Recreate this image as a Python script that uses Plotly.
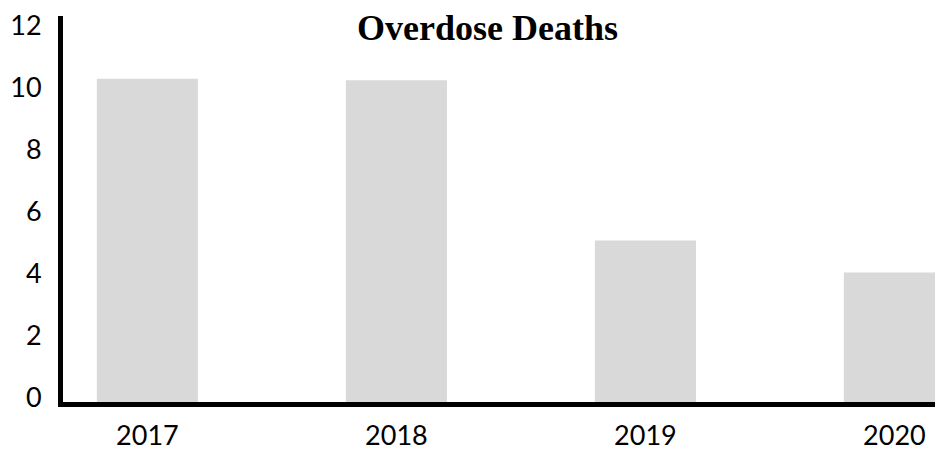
import plotly.graph_objects as go

# Overdose deaths by year
years = ["2017", "2018", "2019", "2020"]
deaths = [10.4, 10.35, 5.2, 4.17]
y_ticks = [0, 2, 4, 6, 8, 10, 12]

W, H = 935, 451

fig = go.Figure(
    go.Bar(
        x=years,
        y=deaths,
        width=0.406,
        marker=dict(color="#d9d9d9", line=dict(width=0)),
        hoverinfo="x+y",
    )
)

fig.update_layout(
    width=W,
    height=H,
    margin=dict(l=63, r=0, t=16, b=47),
    paper_bgcolor="white",
    plot_bgcolor="white",
    showlegend=False,
    font=dict(family="Lato, Open Sans, sans-serif", size=27, color="#000000"),
    annotations=[
        dict(
            text="<b>Overdose Deaths</b>",
            xref="paper", yref="paper",
            x=(487.5 - 63) / (W - 63), y=1.0,
            xanchor="center", yanchor="middle",
            yshift=-12,
            showarrow=False,
            font=dict(family="Liberation Serif, Times New Roman, serif", size=36, color="#000000"),
        )
    ],
)

fig.update_xaxes(
    type="category",
    range=[-0.339, 3.163],
    showgrid=False,
    zeroline=False,
    showline=True,
    linecolor="#000000",
    linewidth=5,
    ticks="",
    ticklabelstandoff=6,
    tickfont=dict(size=27),
)

fig.update_yaxes(
    range=[0, 12.42],
    tickvals=y_ticks,
    ticktext=[str(v) for v in y_ticks],
    showgrid=False,
    zeroline=False,
    showline=True,
    linecolor="#000000",
    linewidth=5,
    ticks="",
    ticklabelstandoff=11,
    ticklabelshift=-4,
    tickfont=dict(size=27),
)

fig.write_html("out.html")
